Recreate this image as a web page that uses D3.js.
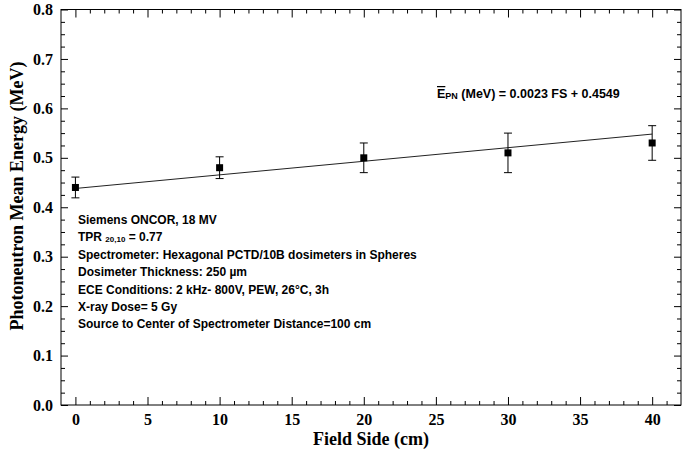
<!DOCTYPE html>
<html>
<head>
<meta charset="utf-8">
<script src="https://cdn.jsdelivr.net/npm/d3@7"></script>
<style>
  body { margin: 0; background: #fff; }
  .axis path { display: none; }
  .axis line { stroke: #000; stroke-width: 1; }
  .axis text { font-family: "Liberation Serif", "Times New Roman", serif; font-weight: bold; font-size: 16px; fill: #000; }
</style>
</head>
<body>
<div id="chart"></div>
<script>
// data
var fieldSide = [0, 10, 20, 30, 40];
var meanEnergy = [0.44, 0.48, 0.50, 0.51, 0.53];
var energyError = [0.021, 0.022, 0.030, 0.040, 0.035];
// fitted line, as drawn
var fitFS = [0, 40];
var fitEnergy = [0.438, 0.548];

var xTicks = [0, 5, 10, 15, 20, 25, 30, 35, 40];
var yTicks = [0, 0.1, 0.2, 0.3, 0.4, 0.5, 0.6, 0.7, 0.8];

var notes = [
  "Siemens ONCOR, 18 MV",
  "TPR |20,10| = 0.77",
  "Spectrometer: Hexagonal PCTD/10B dosimeters in Spheres",
  "Dosimeter Thickness: 250 \u00b5m",
  "ECE Conditions: 2 kHz- 800V, PEW, 26\u00b0C, 3h",
  "X-ray Dose= 5 Gy",
  "Source to Center of Spectrometer Distance=100 cm"
];

var width = 685, height = 452;
var margin = {top: 9.5, right: 4, bottom: 47, left: 61};

var svg = d3.select("#chart")
  .append("svg")
  .attr("width", width)
  .attr("height", height);

var x = d3.scaleLinear()
  .domain([-1, 42])
  .range([margin.left, width - margin.right]);

var y = d3.scaleLinear()
  .domain([0, 0.8])
  .range([height - margin.bottom, margin.top]);

var x0 = x.range()[0], x1 = x.range()[1];
var y0 = y.range()[0], y1 = y.range()[1];

var xMinor = d3.range(0, 42).filter(function(d) { return d % 5 != 0; });
var yMinor = d3.range(0, 33).map(function(i) { return i * 0.025; })
  .filter(function(d, i) { return i % 4 != 0; });

// bottom axis
svg.append("g").attr("class", "axis")
  .attr("transform", "translate(0," + y0 + ")")
  .call(d3.axisBottom(x).tickValues(xTicks).tickSize(-8).tickPadding(9).tickFormat(d3.format("d")));
svg.append("g").attr("class", "axis")
  .attr("transform", "translate(0," + y0 + ")")
  .call(d3.axisBottom(x).tickValues(xMinor).tickSize(-4).tickFormat(""));
// top axis
svg.append("g").attr("class", "axis")
  .attr("transform", "translate(0," + y1 + ")")
  .call(d3.axisTop(x).tickValues(xTicks).tickSize(-8).tickFormat(""));
svg.append("g").attr("class", "axis")
  .attr("transform", "translate(0," + y1 + ")")
  .call(d3.axisTop(x).tickValues(xMinor).tickSize(-4).tickFormat(""));
// left axis
svg.append("g").attr("class", "axis")
  .attr("transform", "translate(" + x0 + ",0)")
  .call(d3.axisLeft(y).tickValues(yTicks).tickSize(-7).tickPadding(8).tickFormat(d3.format(".1f")));
svg.append("g").attr("class", "axis")
  .attr("transform", "translate(" + x0 + ",0)")
  .call(d3.axisLeft(y).tickValues(yMinor).tickSize(-4).tickFormat(""));
// right axis
svg.append("g").attr("class", "axis")
  .attr("transform", "translate(" + x1 + ",0)")
  .call(d3.axisRight(y).tickValues(yTicks).tickSize(-7).tickFormat(""));
svg.append("g").attr("class", "axis")
  .attr("transform", "translate(" + x1 + ",0)")
  .call(d3.axisRight(y).tickValues(yMinor).tickSize(-4).tickFormat(""));

// frame
svg.append("rect")
  .attr("x", x0).attr("y", y1)
  .attr("width", x1 - x0).attr("height", y0 - y1)
  .attr("fill", "none").attr("stroke", "#000").attr("stroke-width", 1);

// axis titles
svg.append("text")
  .attr("x", (x0 + x1) / 2)
  .attr("y", 445)
  .attr("text-anchor", "middle")
  .style("font-family", "'Liberation Serif', 'Times New Roman', serif")
  .style("font-weight", "bold")
  .style("font-size", "18px")
  .text("Field Side (cm)");

svg.append("text")
  .attr("transform", "translate(23,196) rotate(-90)")
  .attr("text-anchor", "middle")
  .style("font-family", "'Liberation Serif', 'Times New Roman', serif")
  .style("font-weight", "bold")
  .style("font-size", "18px")
  .text("Photoneutron Mean Energy (MeV)");

// fit line
var pts = fitFS.map(function(d, i) { return [d, fitEnergy[i]]; });
svg.append("path")
  .datum(pts)
  .attr("fill", "none")
  .attr("stroke", "#222")
  .attr("stroke-width", 1)
  .attr("d", d3.line().x(function(d) { return x(d[0]); }).y(function(d) { return y(d[1]); }));

// error bars
var data = fieldSide.map(function(d, i) { return {fs: d, e: meanEnergy[i], err: energyError[i]}; });
var eb = svg.append("g").attr("stroke", "#000").attr("stroke-width", 1);
eb.selectAll(".v").data(data).enter().append("line")
  .attr("x1", function(d) { return x(d.fs); })
  .attr("x2", function(d) { return x(d.fs); })
  .attr("y1", function(d) { return y(d.e - d.err); })
  .attr("y2", function(d) { return y(d.e + d.err); });
eb.selectAll(".t").data(data).enter().append("line")
  .attr("x1", function(d) { return x(d.fs) - 4; })
  .attr("x2", function(d) { return x(d.fs) + 4; })
  .attr("y1", function(d) { return y(d.e + d.err); })
  .attr("y2", function(d) { return y(d.e + d.err); });
eb.selectAll(".b").data(data).enter().append("line")
  .attr("x1", function(d) { return x(d.fs) - 4; })
  .attr("x2", function(d) { return x(d.fs) + 4; })
  .attr("y1", function(d) { return y(d.e - d.err); })
  .attr("y2", function(d) { return y(d.e - d.err); });

// points
svg.selectAll(".pt").data(data).enter().append("rect")
  .attr("x", function(d) { return x(d.fs) - 3.5; })
  .attr("y", function(d) { return y(d.e) - 3.5; })
  .attr("width", 7).attr("height", 7)
  .attr("fill", "#000");

// equation
var eq = svg.append("text")
  .attr("x", 437).attr("y", 98)
  .style("font-family", "'Liberation Sans', Arial, sans-serif")
  .style("font-weight", "bold")
  .style("font-size", "12.5px");
eq.append("tspan").style("text-decoration", "overline").text("E");
eq.append("tspan").style("font-size", "9px").attr("dy", 1).text("PN");
eq.append("tspan").attr("dy", -1).text(" (MeV) = 0.0023 FS + 0.4549");

// notes
var nt = svg.append("g")
  .style("font-family", "'Liberation Sans', Arial, sans-serif")
  .style("font-weight", "bold")
  .style("font-size", "12px");
notes.forEach(function(s, i) {
  var t = nt.append("text").attr("x", 78).attr("y", 224 + i * 17.4);
  var parts = s.split("|");
  t.append("tspan").text(parts[0]);
  if (parts.length > 1) {
    t.append("tspan").style("font-size", "8px").attr("dy", 1).text(parts[1]);
    t.append("tspan").attr("dy", -1).text(parts[2]);
  }
});
</script>
</body>
</html>
